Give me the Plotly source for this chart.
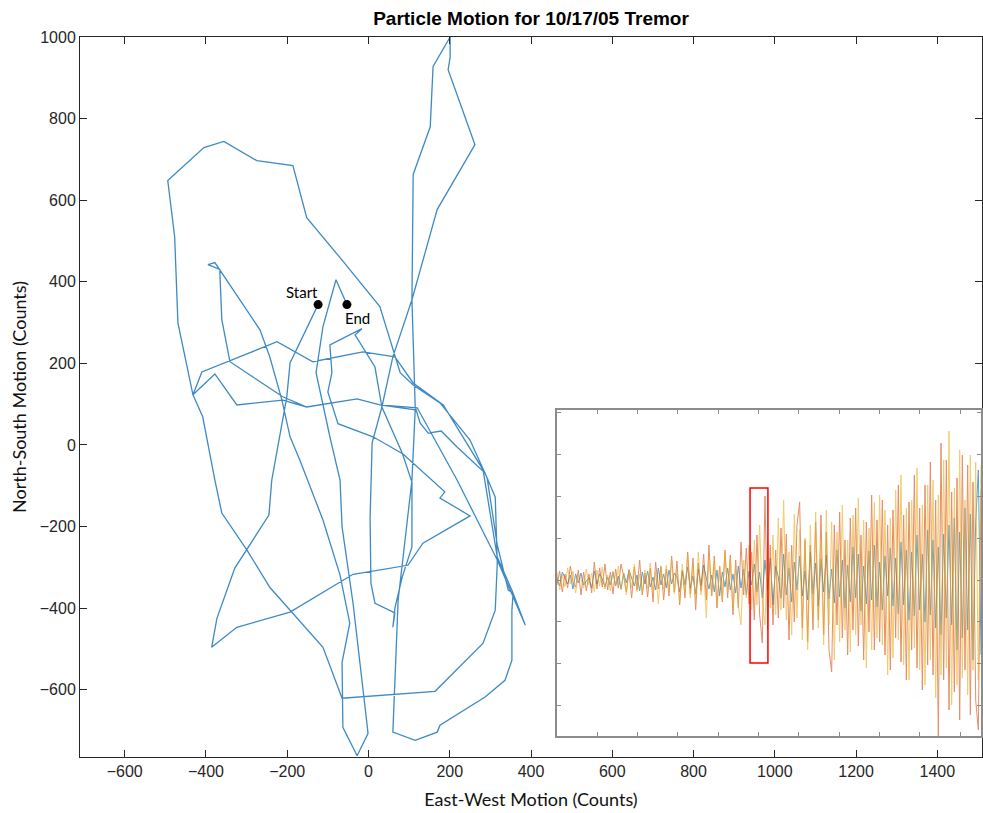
import plotly.graph_objects as go

# Particle motion trace, east-west vs north-south (counts)
ew_counts = [
    -124, -193, -201, -238, -245, -329, -373, -386, -324, -193,
    -38, 97, 134, 250, 176, 188, 85, 11, -75, -100,
    -90, -95, -16, -33, 16, 33, 83, 107, 107, 83,
    65, 60, 65, 16, 6, 4, 9, 33, 60, 107,
    169, 262, 196, 201, 201, 159, 152, 110, 107, 115,
    127, 147, 179, 218, 287, 312, 317, 312, 282, 164,
    -65, -112, -243, -299, -361, -378, -408, -432, -469, -477,
    -494, -405, -356, -275, -186, -152, -70, 28, 46, 78,
    110, 176, 250, 292, 317, 344, 356, 353, 353, 336,
    287, 176, 169, 115, 60, 73, 90, 107, 115, 28,
    -28, -152, -211, -324, -378, -432, -410, -225, -137, -14,
    65, 110, 184, 282, 317, 353, 386, 317, 218, 120,
    28, -28, -152, -211, -341, -361, -366, -395, -378, -267,
    -243, -213, -193, -169, -112, -70, -46, -65, -63, -28,
    -1, -38, -65, -70, -95, -112, -129, -112, -80, -53,
]
ns_counts = [
    344, 201, 118, -86, -172, -302, -425, -496, -447, -410,
    -317, -295, -241, -174, -130, -115, -22, 20, 52, 130,
    177, 245, 285, 270, 191, 93, -20, -91, -250, -324,
    -400, -447, -412, -388, -339, -179, 5, 93, 216, 356,
    577, 736, 920, 950, 1000, 928, 780, 663, 356, 93,
    54, 29, 34, -5, -69, -128, -290, -405, -486, -604,
    -621, -496, -349, -258, -167, -86, 69, 123, 299, 510,
    648, 729, 744, 697, 685, 557, 459, 339, 282, 177,
    147, 103, 12, -81, -245, -356, -363, -405, -528, -577,
    -618, -687, -704, -724, -704, -380, -233, -86, 86, 98,
    113, 93, 110, 98, 174, 123, 179, 253, 204, 228,
    216, 152, 98, -61, -275, -356, -442, -282, -86, 91,
    98, 113, 93, 118, 204, 307, 430, 442, 447, 282,
    216, 110, 20, -37, -184, -319, -437, -533, -692, -762,
    -707, -388, -201, -86, 20, 103, 177, 290, 405, 344,
]

# Seismogram traces shown in the inset (three components)
seis_blue = [
    3, -6, 8, 2, -4, 5, -9, 6, -3, 7, -5, -1, 2, -8, 9, -4, 6, 1, -7, 3,
    -5, 8, -6, 4, -9, 7, -3, 10, 2, -6, 5, -11, 8, -4, 9, -7, 3, -10, 12, -5,
    6, -8, 10, -4, 7, 3, -12, 9, -5, 13, -8, 4, -14, 11, -6, 15, 2, -9, 5, -12,
    10, -16, 8, -7, 12, -10, 6, -13, 14, -8, 11, -15, 9, -5, 16, -12, 8, -18, 20, -10,
    22, -25, 14, 3, -18, 26, -15, 12, -22, 18, -10, 24, -16, 9, -20, 28, -14, 17, -26, 21,
    -12, 25, -19, 11, -23, 30, -17, 20, -28, 15, -22, 33, -18, 26, -31, 14, -24, 29, -20, 35,
    -27, 18, -30, 24, -16, 32, -26, 22, -34, 38, -25, 30, -40, 28, -36, 45, -30, 26, -42, 50,
    -35, 40, -48, 33, -55, 46, -38, 55, -45, 62, -70, 48, -58, 72, -50, 66, -80, 58, 110, -75,
]
seis_orange = [
    -5, 9, -12, 6, -8, 14, -2, -7, 10, -15, 8, -11, 6, -13, 18, -9, 12, -7, 16, -10,
    8, -14, 11, -8, 16, 4, -12, 9, -18, 13, -10, 20, -15, 7, -17, 12, -22, 18, -9, 14,
    -20, 11, -16, 24, -12, 19, -25, 10, -18, 28, -14, 22, -30, 17, -11, 26, -20, 35, -16, 24,
    -28, 14, -22, 30, -18, 25, -35, 20, -28, 38, -15, 32, -24, 28, -40, 45, -35, -63, 84, -50,
    35, -45, 30, -38, 52, -28, 46, -60, 35, -42, 55, 78, -48, 40, -62, 35, -50, 58, -40, 65,
    -55, 48, -70, -92, 55, -45, 68, -58, 40, -75, 62, -50, 72, -66, 45, -80, 58, -52, 85, -70,
    60, -62, 80, -75, 55, -90, 70, -58, 95, -82, 65, -100, 78, -70, 105, -88, 72, -110, 95, -85,
    118, -95, 80, -156, 137, -100, 120, -130, 88, -112, 102, -140, 125, -90, 115, -135, 98, -120, -150, 90,
]
seis_yellow = [
    8, -10, 5, -7, 12, -4, 9, -13, 6, 1, -8, 11, -5, 7, -12, 10, -6, 13, -9, 5,
    -11, 9, -6, 14, -10, 7, -15, 11, -8, 16, -12, 6, -14, 10, -9, 17, -13, 8, -24, 12,
    -10, 15, -11, 20, -14, 9, -22, 16, -12, 25, -18, 13, -20, 28, -15, 10, -38, 22, -16, 19,
    -25, 14, -20, 28, -12, 22, -30, 17, -26, -45, 20, -18, 35, -30, 40, -25, 55, -20, -45, 38,
    -28, 45, -35, 62, -30, 80, -40, 28, -55, 66, -38, 50, -60, 42, -70, 55, -35, 68, -48, 40,
    -65, 70, -45, 58, -80, 48, -62, 75, -50, 40, -72, 65, -55, 82, -45, 60, -88, 52, -70, 78,
    -58, 85, -65, 70, -95, 62, -78, 90, -60, 105, -85, 72, -100, 80, -68, 112, -90, 75, -105, 95,
    -80, 100, -118, 85, -95, 120, -88, 149, -125, 92, -105, 130, -98, 80, -115, 125, -90, 118, -100, 115,
]

x_ticks = list(range(-600, 1401, 200))
y_ticks = list(range(-600, 1001, 200))

AX = "#262626"
TICK_FONT = dict(family="Liberation Sans, Arial, sans-serif", size=16, color=AX)
LABEL_FONT = dict(family="Lato, Open Sans, sans-serif", size=18, color="#111111")

fig = go.Figure()

fig.add_trace(go.Scatter(
    x=ew_counts, y=ns_counts, mode="lines",
    line=dict(color="#3d8ac4", width=1.3),
    xaxis="x", yaxis="y", showlegend=False, hoverinfo="skip",
))
fig.add_trace(go.Scatter(
    x=[ew_counts[0], ew_counts[-1]], y=[ns_counts[0], ns_counts[-1]],
    mode="markers", marker=dict(color="black", size=9),
    xaxis="x", yaxis="y", showlegend=False, hoverinfo="skip",
))

idx = list(range(len(seis_blue)))
for series, color in ((seis_blue, "#0072BD"), (seis_orange, "#D95319"), (seis_yellow, "#EDB120")):
    fig.add_trace(go.Scatter(
        x=idx, y=series, mode="lines",
        line=dict(color=color, width=1),
        opacity=0.65, xaxis="x2", yaxis="y2", showlegend=False, hoverinfo="skip",
    ))

n = len(seis_blue) - 1
fig.update_layout(
    width=983, height=813,
    margin=dict(l=80, r=1, t=37, b=56),
    paper_bgcolor="white", plot_bgcolor="white",
    title=dict(
        text="<b>Particle Motion for 10/17/05 Tremor</b>",
        x=0.5, xref="paper", y=1 - 18 / 813, yref="container",
        xanchor="center", yanchor="middle",
        font=dict(family="Liberation Sans, Arial, sans-serif", size=19, color="black"),
    ),
    xaxis=dict(
        range=[-710, 1510], tickvals=x_ticks, ticks="inside", ticklen=7,
        tickcolor=AX, showline=True, linecolor=AX, linewidth=1, mirror="ticks",
        showgrid=False, zeroline=False, tickfont=TICK_FONT,
        title=dict(text="East-West Motion (Counts)", font=LABEL_FONT, standoff=14),
    ),
    yaxis=dict(
        range=[-765, 1000], tickvals=y_ticks, ticks="inside", ticklen=7,
        tickcolor=AX, showline=True, linecolor=AX, linewidth=1, mirror="ticks",
        showgrid=False, zeroline=False, tickfont=TICK_FONT,
        title=dict(text="North-South Motion (Counts)", font=LABEL_FONT, standoff=8),
    ),
    xaxis2=dict(
        domain=[0.5288, 0.9989], anchor="y2", range=[0, n],
        tick0=0, dtick=n / 10.52, ticks="inside", ticklen=4, tickcolor="#8c8c8c",
        showticklabels=False, showline=True, linecolor="#8c8c8c", linewidth=1.5,
        mirror="ticks", showgrid=False, zeroline=False,
    ),
    yaxis2=dict(
        domain=[0.0292, 0.4819], anchor="x2", range=[-156, 170],
        tick0=0, dtick=42, ticks="inside", ticklen=4, tickcolor="#8c8c8c",
        showticklabels=False, showline=True, linecolor="#8c8c8c", linewidth=1.5,
        mirror="ticks", showgrid=False, zeroline=False,
    ),
    shapes=[dict(
        type="rect", xref="x2", yref="y2", x0=72.4, x1=79.1, y0=-83, y1=92,
        line=dict(color="#ff0000", width=1.5), fillcolor="rgba(0,0,0,0)",
    )],
    annotations=[
        dict(text="Start", x=-164, y=375, xref="x", yref="y", showarrow=False,
             font=dict(family="Lato, Open Sans, sans-serif", size=15, color="black")),
        dict(text="End", x=-26, y=312, xref="x", yref="y", showarrow=False,
             font=dict(family="Lato, Open Sans, sans-serif", size=15, color="black")),
    ],
)

fig.write_html("out.html")
